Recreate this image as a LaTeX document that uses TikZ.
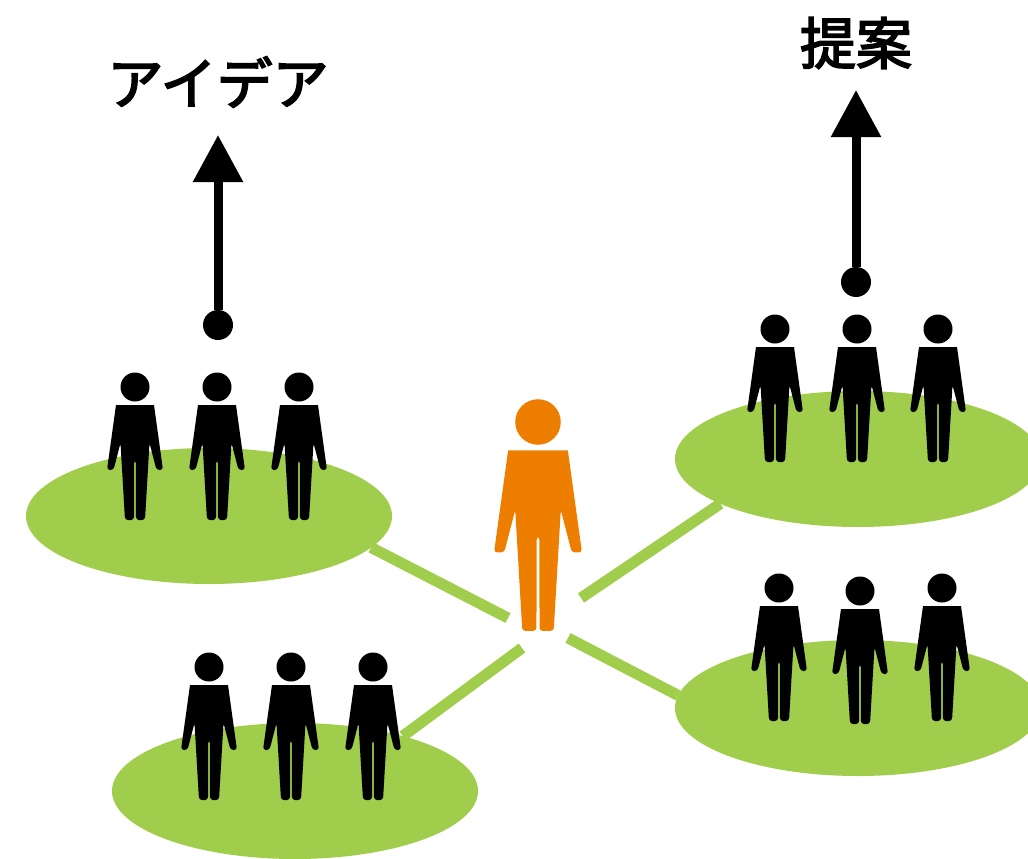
\documentclass[tikz,border=0pt]{standalone}
\usepackage{fontspec}
\newfontfamily\jpfont{Noto Sans CJK JP}[FakeBold=3]
\usetikzlibrary{arrows.meta,shapes.geometric}
\definecolor{groupgreen}{RGB}{160,205,75}
\definecolor{leadorange}{RGB}{238,126,0}
\tikzset{
    group/.style={ellipse,fill=groupgreen,minimum width=366pt,minimum height=136pt,inner sep=0pt,outer sep=0pt},
    link/.style={groupgreen,line width=11pt},
    flow/.style={line width=9pt,-{Triangle[length=47pt,width=48pt]}},
    dot/.style={circle,fill=black,minimum size=30pt,inner sep=0pt,outer sep=0pt},
    caption/.style={font=\jpfont\fontsize{56}{60}\selectfont,inner sep=0pt},
    pics/person/.style={code={
        \fill[#1] (0,0) circle (14.5);
        \fill[#1] (-19,18) -- (19,18) [rounded corners=3pt] -- (28,83) -- (21.5,83) -- (14.5,56) -- (10,133) -- (1,133)
            -- (0.8,73) -- (-0.8,73) -- (-1,133) -- (-10,133) -- (-14.5,56) -- (-21.5,83) -- (-28,83) [sharp corners] -- cycle;
    }}
}
\begin{document}
\begin{tikzpicture}[x=1pt,y=-1pt]
    \clip (0,0) rectangle (1028,859);

    % Groups
    \node[group] (groupa) at (209,516) {};
    \node[group] (groupb) at (295,791) {};
    \node[group] (groupc) at (858,459) {};
    \node[group] (groupd) at (858,708) {};

    % Link ends near the centre
    \coordinate (enda) at (508,618);
    \coordinate (endb) at (522,648);
    \coordinate (endc) at (581,598);
    \coordinate (endd) at (568,638);

    % Links
    \draw[link] (groupa.-11) -- (enda);
    \draw[link] (groupb.27) -- (endb);
    \draw[link] (groupc.198) -- (endc);
    \draw[link] (groupd.176) -- (endd);

    % People
    \coordinate (a1) at (135,387);
    \coordinate (a2) at (217,387);
    \coordinate (a3) at (299,387);
    \coordinate (b1) at (209,667);
    \coordinate (b2) at (291,667);
    \coordinate (b3) at (373,667);
    \coordinate (c1) at (775,329);
    \coordinate (c2) at (857,329);
    \coordinate (c3) at (938,329);
    \coordinate (d1) at (779,588);
    \coordinate (d2) at (860,591);
    \coordinate (d3) at (942,588);

    \foreach \p in {a1,a2,a3,b1,b2,b3,c1,c2,c3,d1,d2,d3} \pic at (\p) {person=black};
    \pic[scale=1.57] at (538,422) {person=leadorange};

    % Text and arrows
    \node[caption] (idea) at (218,82) {アイデア};
    \node[caption] (proposal) at (856,43) {提案};
    \node[dot] (ideadot) at (218,325) {};
    \node[dot] (proposaldot) at (856,282) {};
    \coordinate (ideatip) at (218,135);
    \coordinate (proposaltip) at (856,90);
    \draw[flow] (ideadot) -- (ideatip);
    \draw[flow] (proposaldot) -- (proposaltip);
\end{tikzpicture}
\end{document}
